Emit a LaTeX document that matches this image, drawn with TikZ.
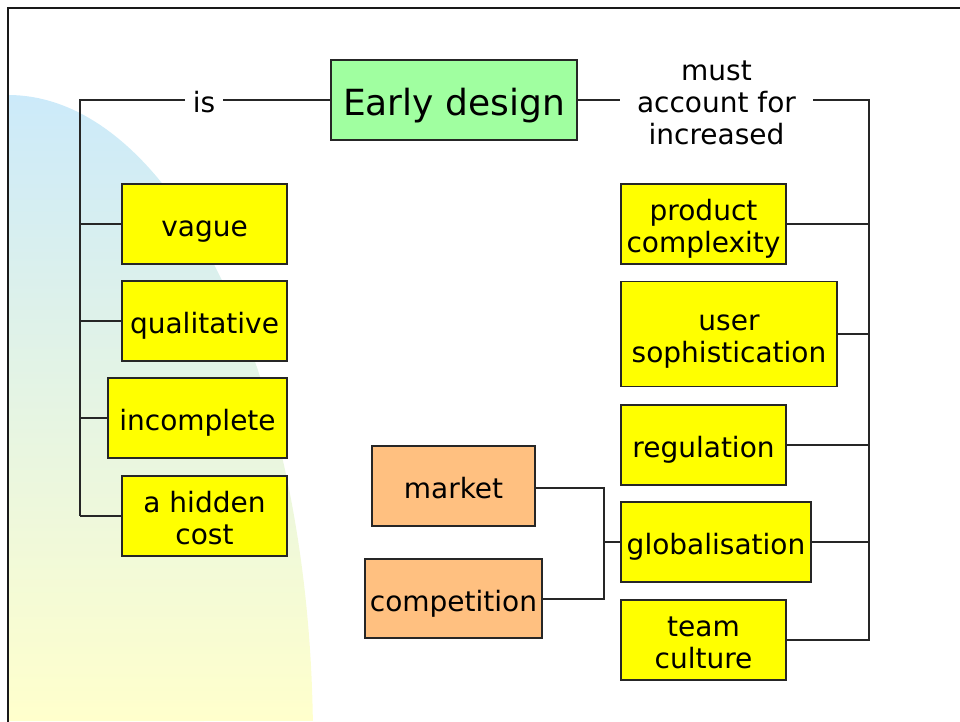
\documentclass[tikz,border=0pt]{standalone}
\usepackage{fontspec}
\setmainfont{DejaVu Sans}
\definecolor{bgblue}{RGB}{204,234,250}
\definecolor{bgyellow}{RGB}{255,255,204}
\definecolor{boxgreen}{RGB}{160,255,160}
\definecolor{boxorange}{RGB}{255,192,128}
\definecolor{boxyellow}{RGB}{255,255,0}
% one text line with a fixed line box (ascent 21.375pt, descent 2.625pt)
\newcommand\txtline[1]{\rule[-2.625pt]{0pt}{24pt}\smash{#1}}
\begin{document}
\begin{tikzpicture}[x=0.75pt,y=-0.75pt,
  box/.style={draw=black!85, line width=1.1pt, align=center, inner sep=0pt,
    font=\fontsize{21}{24}\selectfont, minimum height=60pt},
  ybox/.style={box, fill=boxyellow},
  obox/.style={box, fill=boxorange},
  gbox/.style={box, fill=boxgreen, font=\fontsize{27}{30}\selectfont,
    text height=24.75pt, text depth=2.25pt},
  lbl/.style={align=center, inner sep=0pt, font=\fontsize{21}{24}\selectfont},
  conn/.style={line width=1.1pt, draw=black!85}]
\useasboundingbox (0,0) rectangle (960,721);
% background shape
\shade[top color=bgblue, bottom color=bgyellow]
  (8,721) -- (8,95) arc[start angle=-90, end angle=-1.69, x radius=305, y radius=645] -- cycle;
% frame
\draw[line width=1.8pt, black!90] (8,722) -- (8,8) -- (961,8);
% nodes
\node[gbox, minimum width=184.5pt] (early) at (454,100) {Early design};
\node[lbl, minimum width=27.75pt] (is) at (204,100) {\txtline{is}};
\node[lbl, minimum width=144.75pt] (acc) at (716.5,100) {\txtline{must}\\\txtline{account for}\\\txtline{increased}};
\node[ybox, minimum width=123.75pt] (vague) at (204.5,224) {\txtline{vague}};
\node[ybox, minimum width=123.75pt] (qual) at (204.5,321) {\txtline{qualitative}};
\node[ybox, minimum width=134.25pt] (incomp) at (197.5,418) {\txtline{incomplete}};
\node[ybox, minimum width=123.75pt] (hidden) at (204.5,516) {\txtline{a hidden}\\\txtline{cost}};
\node[ybox, minimum width=123.75pt] (prodc) at (703.5,224) {\txtline{product}\\\txtline{complexity}};
\node[ybox, minimum width=162pt, minimum height=78.75pt] (user) at (729,334) {\txtline{user}\\\txtline{sophistication}};
\node[ybox, minimum width=123.75pt] (reg) at (703.5,445) {\txtline{regulation}};
\node[ybox, minimum width=142.5pt] (glob) at (716,542) {\txtline{globalisation}};
\node[ybox, minimum width=123.75pt] (team) at (703.5,640) {\txtline{team}\\\txtline{culture}};
\node[obox, minimum width=122.25pt] (market) at (453.5,486) {\txtline{market}};
\node[obox, minimum width=132.75pt, minimum height=59.25pt] (comp) at (453.5,598.5) {\txtline{competition}};
% junction coordinates
\coordinate (lt) at (80,100);
\coordinate (lb) at (80,516);
\coordinate (rt) at (869,100);
\coordinate (rb) at (869,640);
\coordinate (jt) at (604,488);
\coordinate (jb) at (604,599);
% left connectors
\draw[conn] (early.west) -- (is.east);
\draw[conn] (is.west) -- (lt) -- (lb);
\draw[conn] (vague.west) -- (vague.west -| lt);
\draw[conn] (qual.west) -- (qual.west -| lt);
\draw[conn] (incomp.west) -- (incomp.west -| lt);
\draw[conn] (hidden.west) -- (hidden.west -| lt);
% right connectors
\draw[conn] (early.east) -- (acc.west);
\draw[conn] (acc.east) -- (rt) -- (rb) -- (team.east);
\draw[conn] (prodc.east) -- (prodc.east -| rt);
\draw[conn] (user.east) -- (user.east -| rt);
\draw[conn] (reg.east) -- (reg.east -| rt);
\draw[conn] (glob.east) -- (glob.east -| rt);
% market / competition
\draw[conn] (market.east |- jt) -- (jt) -- (jb) -- (comp.east |- jb);
\draw[conn] (glob.west) -- (glob.west -| jt);
\end{tikzpicture}
\end{document}
